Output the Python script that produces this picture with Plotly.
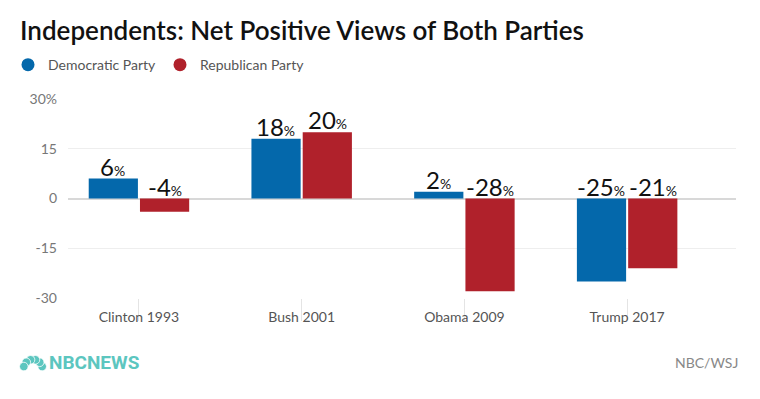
import math
import plotly.graph_objects as go

categories = ["Clinton 1993", "Bush 2001", "Obama 2009", "Trump 2017"]
democratic = [6, 18, 2, -25]
republican = [-4, 20, -28, -21]
series_names = ["Democratic Party", "Republican Party"]
colors = ["#0468ab", "#b0212b"]
ytick_vals = [-30, -15, 0, 15, 30]
ytick_text = ["-30", "-15", "0", "15", "30%"]

fig = go.Figure()
for name, vals, col in zip(series_names, [democratic, republican], colors):
    fig.add_trace(go.Bar(x=categories, y=vals, name=name, marker_color=col,
                         marker_line_width=0, showlegend=False))
    fig.add_trace(go.Scatter(x=[None], y=[None], mode="markers", name=name,
                             marker=dict(symbol="circle", size=13, color=col)))

# value labels
for vals, shift in [(democratic, -26), (republican, 26)]:
    for c, v in zip(categories, vals):
        fig.add_annotation(x=c, y=max(v, 0), xshift=shift, yanchor="bottom", yshift=-4,
                           text=f"{v}<span style='font-size:14px'>%</span>",
                           showarrow=False, font=dict(size=24, color="#111", family="Lato"))

fig.update_layout(
    width=752, height=391,
    margin=dict(l=60, r=24, t=91, b=101, autoexpand=False),
    plot_bgcolor="white", paper_bgcolor="white",
    barmode="group", bargap=0.37, bargroupgap=0.04,
    font=dict(family="Lato", color="#666", size=14),
    title=dict(text="Independents: Net Positive Views of Both Parties",
               xref="container", yref="container",
               x=0.016, xanchor="left", y=0.941, yanchor="middle",
               font=dict(size=26, color="#111", family="Lato", weight=600)),
    legend=dict(orientation="h", xref="container", yref="container",
                x=0.0, xanchor="left", y=0.854, yanchor="middle",
                font=dict(size=14, color="#555"), itemwidth=30, tracegroupgap=0,
                entrywidthmode="pixels", entrywidth=107),
    xaxis=dict(range=[-0.436, 3.669], showgrid=False, ticks="outside", ticklen=22,
               tickcolor="#e4e4e4", showline=False, tickfont=dict(size=14, color="#555"),
               ticklabelstandoff=-16),
    yaxis=dict(range=[-30, 30], tickvals=ytick_vals, ticktext=ytick_text,
               gridcolor="#eeeeee", zeroline=True, zerolinecolor="#d8d8d8", zerolinewidth=2,
               tickfont=dict(size=14, color="#777"), ticklabelstandoff=10),
)

fig.add_annotation(xref="paper", yref="paper", x=1.006, y=-0.322, xanchor="right", yanchor="middle",
                   text="NBC/WSJ", showarrow=False, font=dict(size=14, color="#888"))
fig.add_annotation(xref="paper", yref="paper", x=-0.0314, y=-0.322, xanchor="left", yanchor="middle",
                   text="<b>NBCNEWS</b>", showarrow=False,
                   font=dict(size=19, color="#5cc6bf", family="Liberation Sans Narrow, Roboto"))

# peacock logo (decorative)
base_dx, base_dy = -35, -71
for k in range(6):
    th = math.radians(15 + 30 * k)
    cx = base_dx + 9.5 * math.cos(th)
    cy = base_dy + 9.5 * math.sin(th)
    fig.add_shape(type="circle", xref="paper", yref="paper", xsizemode="pixel", ysizemode="pixel",
                  xanchor=0, yanchor=0, x0=cx - 4.3, x1=cx + 4.3, y0=cy - 4.3, y1=cy + 4.3,
                  fillcolor="#5cc6bf", line=dict(width=0.8, color="white"))

fig.write_html("out.html")
